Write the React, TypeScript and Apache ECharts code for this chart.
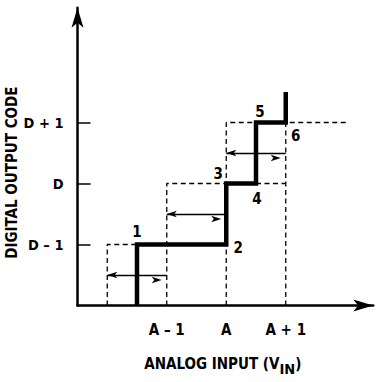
import React, { useEffect, useRef } from 'react';
import * as echarts from 'echarts';

// ---- data ----
const yTickValues = [1, 2, 3];
const yTickLabels = ['D – 1', 'D', 'D + 1'];
const xTickValues = [1.5, 2.5, 3.5];
const xTickLabels = ['A – 1', 'A', 'A + 1'];

// thick (actual) transfer staircase
const stepX = [1, 1, 2.5, 2.5, 3, 3, 3.5, 3.5];
const stepY = [0, 1, 1, 2, 2, 3, 3, 3.5];

// dashed (ideal) code boxes, one polyline each
const dashedLines: number[][][] = [
  [[0.5, 0], [0.5, 1], [1, 1]],
  [[1.5, 0], [1.5, 2], [2.5, 2]],
  [[2.5, 0], [2.5, 3], [4.55, 3]],
  [[3, 2], [3.5, 2]],
  [[3.5, 0], [3.5, 3]],
];

// double-headed arrows
const arrowStarts = [0.5, 1.5, 2.5];
const arrowEnds = [1.5, 2.5, 3.5];
const arrowLevels = [0.5, 1.5, 2.5];

// numbered points
const pointNames = ['1', '2', '3', '4', '5', '6'];
const pointX = [1, 2.5, 2.5, 3, 3, 3.5];
const pointY = [1, 1, 2, 2, 3, 3];

// ---- styles ----
const labelOffsets = [[0, -13], [12, 3], [-8, -10], [1, 15], [4, -11], [10, 13]];
const FONT = '"DejaVu Sans Condensed", "Liberation Sans Narrow", sans-serif';
const X_MAX = 4.97;
const Y_MAX = 4.88;

export default function App() {
  const ref = useRef<HTMLDivElement>(null);
  useEffect(() => {
    if (!ref.current) return;
    const chart = echarts.init(ref.current, undefined, { renderer: 'svg' });
    const labelFor = (vals: number[], labels: string[]) => (v: number) => {
      const i = vals.findIndex((t) => Math.abs(t - v) < 1e-6);
      return i >= 0 ? labels[i] : '';
    };
    const series: any[] = [];
    dashedLines.forEach((pl) => {
      series.push({
        type: 'line',
        data: pl,
        symbol: 'none',
        silent: true,
        z: 2,
        lineStyle: { color: '#000', width: 1.3, type: [5, 3.5] },
      });
    });
    series.push({
      type: 'line',
      data: [],
      silent: true,
      z: 3,
      markLine: {
        silent: true,
        symbol: ['arrow', 'arrow'],
        symbolSize: [5, 10],
        symbolOffset: [0, 5],
        label: { show: false },
        emphasis: { disabled: true },
        lineStyle: { color: '#000', width: 1.3, type: 'solid' },
        data: arrowStarts.map((s, i) => [
          { coord: [s, arrowLevels[i]] },
          { coord: [arrowEnds[i], arrowLevels[i]] },
        ]),
      },
    });
    series.push({
      type: 'line',
      data: stepX.map((x, i) => [x, stepY[i]]),
      symbol: 'none',
      silent: true,
      z: 4,
      lineStyle: { color: '#000', width: 4.5, join: 'miter', cap: 'butt' },
    });
    series.push({
      type: 'scatter',
      symbolSize: 0,
      silent: true,
      z: 5,
      itemStyle: { color: '#000' },
      data: pointNames.map((n, i) => ({
        name: n,
        value: [pointX[i], pointY[i]],
        label: { offset: labelOffsets[i] },
      })),
      label: {
        show: true,
        position: 'top',
        distance: 0,
        formatter: (p: any) => p.name,
        color: '#000',
        opacity: 1,
        textBorderWidth: 0,
        fontFamily: FONT,
        fontWeight: 'bold',
        fontSize: 15,
        align: 'center',
        verticalAlign: 'middle',
      },
    });

    chart.setOption({
      animation: false,
      backgroundColor: '#fff',
      grid: {
        left: 77.5,
        top: 305.5 - Y_MAX * 61,
        width: X_MAX * 59.5,
        height: Y_MAX * 61,
        containLabel: false,
        outerBoundsMode: 'none',
      },
      xAxis: {
        type: 'value',
        min: 0,
        max: X_MAX,
        interval: 0.5,
        splitLine: { show: false },
        axisTick: { show: false },
        axisLine: {
          show: true,
          lineStyle: { color: '#000', width: 2.5 },
          symbol: ['none', 'arrow'],
          symbolSize: [9, 20],
        },
        axisLabel: {
          customValues: xTickValues,
          formatter: labelFor(xTickValues, xTickLabels),
          color: '#000',
          fontFamily: FONT,
          fontWeight: 'bold',
          fontSize: 15,
          margin: 17,
        },
        name: 'ANALOG INPUT (V{sub|IN})',
        nameLocation: 'middle',
        nameGap: 46,
        nameMoveOverlap: false,
        nameTextStyle: {
          color: '#000',
          fontFamily: FONT,
          fontWeight: 'bold',
          fontSize: 15,
          padding: [0, 5, 0, 0],
          rich: {
            sub: { fontFamily: FONT, fontWeight: 'bold', fontSize: 14.5, color: '#000', padding: [10, 0, 0, 0] },
          },
        },
      },
      yAxis: {
        type: 'value',
        min: 0,
        max: Y_MAX,
        interval: 1,
        splitLine: { show: false },
        axisTick: {
          show: true,
          customValues: yTickValues,
          inside: true,
          length: 13,
          lineStyle: { color: '#000', width: 1.5 },
        },
        axisLine: {
          show: true,
          lineStyle: { color: '#000', width: 2.5 },
          symbol: ['none', 'arrow'],
          symbolSize: [9, 20],
        },
        axisLabel: {
          customValues: yTickValues,
          formatter: labelFor(yTickValues, yTickLabels),
          color: '#000',
          fontFamily: FONT,
          fontWeight: 'bold',
          fontSize: 14.5,
          margin: 14,
        },
        name: 'DIGITAL OUTPUT CODE',
        nameLocation: 'middle',
        nameGap: 58,
        nameMoveOverlap: false,
        nameTextStyle: {
          color: '#000',
          fontFamily: FONT,
          fontWeight: 'bold',
          fontSize: 15,
          padding: [0, 32, 0, 0],
        },
      },
      series,
    });
    return () => chart.dispose();
  }, []);
  return (
    <div
      ref={ref}
      style={{ position: 'fixed', left: 0, top: 0, width: 384, height: 382, background: '#fff' }}
    />
  );
}
